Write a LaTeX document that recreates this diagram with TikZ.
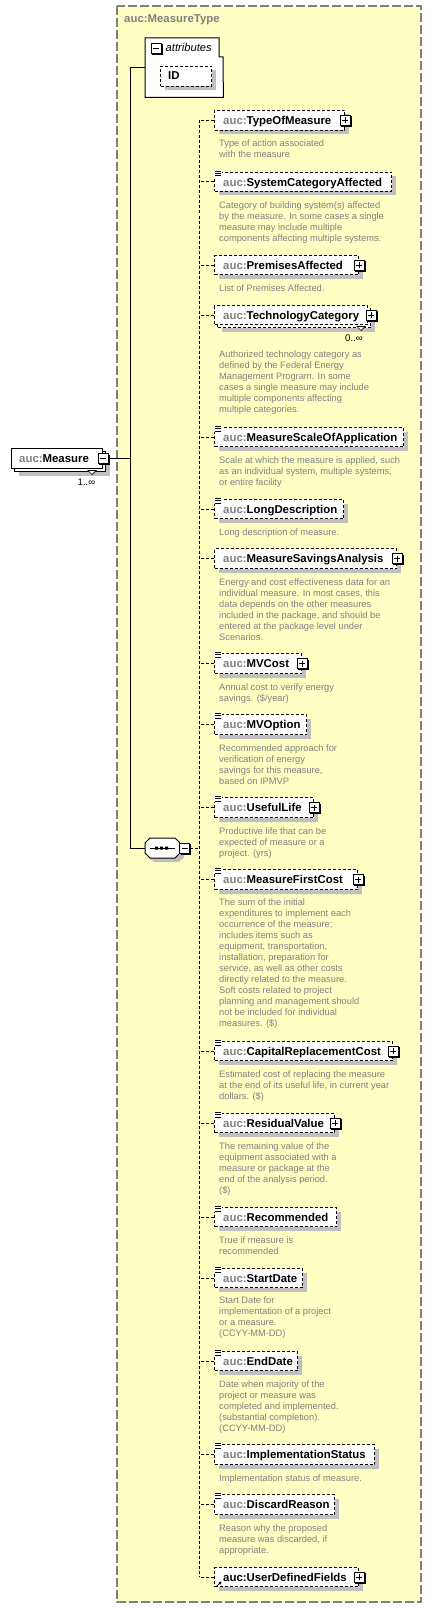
\documentclass[tikz,border=0pt]{standalone}
\usepackage{fontspec}
\setmainfont{Liberation Sans}
\usetikzlibrary{shadows,calc,arrows.meta}
\definecolor{bgyellow}{RGB}{255,255,196}
\definecolor{framegray}{RGB}{128,128,128}
\definecolor{shadowgray}{RGB}{192,192,192}
\definecolor{descgray}{RGB}{128,128,128}
\definecolor{prefixgray}{RGB}{128,128,128}
\newcommand\AucLabel[1]{\textcolor{prefixgray}{auc:}#1}
\newcommand\DescLines[1]{\begin{tabular}[t]{@{}l@{}}#1\end{tabular}}
\tikzset{
  conn/.style={line width=1pt, black},
  dconn/.style={line width=1pt, black, dash pattern=on 3pt off 2pt},
  boxshadow/.style={drop shadow={shadow xshift=4pt, shadow yshift=-4pt, fill=shadowgray, opacity=1}},
  optbox/.style={draw, line width=1pt, dash pattern=on 3pt off 2pt, fill=white, inner sep=0, anchor=north west},
  reqbox/.style={draw, line width=1pt, fill=white, inner sep=0, anchor=north west},
  lbl/.style={font=\fontsize{11.4}{13}\selectfont\bfseries, inner sep=0, anchor=base west},
  desc/.style={font=\fontsize{9.3}{11}\selectfont, text=descgray, inner sep=0, anchor=base west},
  card/.style={font=\fontsize{9.6}{11}\selectfont, inner sep=0, anchor=base},
  container/.style={fill=bgyellow, draw=framegray, line width=1.2pt, dash pattern=on 9pt off 3pt},
  plusmark/.pic={
    \fill[black] (-4,-4) rectangle (6.5,6.5);
    \draw[line width=1pt, fill=white] (-5,-5) rectangle (5,5);
    \draw[line width=1pt] (-3,0) -- (3,0) (0,-3) -- (0,3);
  },
  minusmark/.pic={
    \fill[black] (-4,-4) rectangle (6.5,6.5);
    \draw[line width=1pt, fill=white] (-5,-5) rectangle (5,5);
    \draw[line width=1pt] (-3,0) -- (3,0);
  },
  simpmark/.pic={
    \fill[white] (-1,-1.5) rectangle (7.5,5);
    \draw[line width=0.8pt] (1,-0.5) -- (7,-0.5) (1,1.7) -- (7,1.7) (1,3.9) -- (7,3.9);
  }
}
% name, right x, top y, bottom y, label
\newcommand\OptElem[5]{%
  \node[optbox, boxshadow, minimum width={#2-214}, minimum height={#4-#3}] (#1) at (214,#3) {};
  \node[lbl] (#1L) at ($(#1.west)+(9,4)$) {#5};
}
\begin{document}
\begin{tikzpicture}[x=1pt,y=-1pt]
\useasboundingbox (0,0) rectangle (431,1608);
\fill[white] (0,0) rectangle (431,1608);
\draw[container] (117,6) rectangle (421,1602);
\node[lbl, text=prefixgray] (title) at (124,23) {auc:MeasureType};

% attributes group
\node[inner sep=0, minimum width=78, minimum height=59, anchor=north west] (attr) at (145,38) {};
\draw[line width=1pt, fill=white] (attr.north west) -- ++(74,0) -- ++(0,19) -- ++(4,0) -- (attr.south east) -- (attr.south west) -- cycle;
\node[font=\fontsize{11.2}{13}\selectfont\itshape, inner sep=0, anchor=base west] (attrT) at (165.5,52) {attributes};
\node[optbox, boxshadow, minimum width=51, minimum height=20] (id) at (160,66) {};
\node[lbl] (idL) at (168,80) {ID};
\coordinate (attrW) at ($(attr.north west)+(0,30)$);

% Measure element (1..inf)
\node[reqbox, boxshadow, minimum width=91, minimum height=20] (measB) at (14,451) {};
\node[reqbox, minimum width=91, minimum height=20] (meas) at (11,448) {};
\node[lbl] (measL) at ($(meas.west)+(8,4)$) {\AucLabel{Measure}};
\draw[fill=white, line width=0.7pt] (88,470.5) -- (96,470.5) -- (92,474.5) -- cycle;
\node[card] (measC) at (86.5,485) {1..∞};

% sequence compositor
\node[inner sep=0, minimum width=35, minimum height=20] (seq) at (162.5,848) {};
\fill[shadowgray] (154,842) -- (179,842) -- (184,847) -- (184,857) -- (179,862) -- (154,862) -- (149,857) -- (149,847) -- cycle;
\draw[line width=1pt, fill=white] (150,838) -- (175,838) -- (180,843) -- (180,853) -- (175,858) -- (150,858) -- (145,853) -- (145,843) -- cycle;
\draw[line width=1pt] (150,848) -- (175,848);
\fill (155,846.5) rectangle (158,849.5) (160,846.5) rectangle (163,849.5) (165,846.5) rectangle (168,849.5);

% children
\OptElem{tom}{344}{110}{130}{\AucLabel{TypeOfMeasure}}
\node[desc] (tomD) at ($(tom.south west)+(5,16)$) {\DescLines{Type of action associated\\with the measure}};

\OptElem{sca}{391}{172}{191}{\AucLabel{SystemCategoryAffected}}
\node[desc] (scaD) at ($(sca.south west)+(5,16)$) {\DescLines{Category of building system(s) affected\\by the measure. In some cases a single\\measure may include multiple\\components affecting multiple systems.}};

\OptElem{pa}{358}{255}{274}{\AucLabel{PremisesAffected}}
\node[desc] (paD) at ($(pa.south west)+(5,16)$) {\DescLines{List of Premises Affected.}};

\node[optbox, boxshadow, minimum width=153, minimum height=19] (tcB) at (217,308) {};
\node[optbox, minimum width=153, minimum height=19] (tc) at (214,305) {};
\node[lbl] (tcL) at ($(tc.west)+(9,4)$) {\AucLabel{TechnologyCategory}};
\draw[fill=white, line width=0.7pt] (357,326.5) -- (365,326.5) -- (361,330.5) -- cycle;
\node[card] (tcC) at (354,341.5) {0..∞};
\node[desc] (tcD) at (219,357) {\DescLines{Authorized technology category as\\defined by the Federal Energy\\Management Program. In some\\cases a single measure may include\\multiple components affecting\\multiple categories.}};

\OptElem{msoa}{403}{427}{446}{\AucLabel{MeasureScaleOfApplication}}
\node[desc] (msoaD) at ($(msoa.south west)+(5,16)$) {\DescLines{Scale at which the measure is applied, such\\as an individual system, multiple systems,\\or entire facility}};

\OptElem{ld}{343}{499}{518}{\AucLabel{LongDescription}}
\node[desc] (ldD) at ($(ld.south west)+(5,16)$) {\DescLines{Long description of measure.}};

\OptElem{msa}{396}{548}{568}{\AucLabel{MeasureSavingsAnalysis}}
\node[desc] (msaD) at ($(msa.south west)+(5,16)$) {\DescLines{Energy and cost effectiveness data for an\\individual measure. In most cases, this\\data depends on the other measures\\included in the package, and should be\\entered at the package level under\\Scenarios.}};

\OptElem{mvc}{301}{653}{673}{\AucLabel{MVCost}}
\node[desc] (mvcD) at ($(mvc.south west)+(5,16)$) {\DescLines{Annual cost to verify energy\\savings. (\$/year)}};

\OptElem{mvo}{306}{714}{734}{\AucLabel{MVOption}}
\node[desc] (mvoD) at ($(mvo.south west)+(5,16)$) {\DescLines{Recommended approach for\\verification of energy\\savings for this measure,\\based on IPMVP}};

\OptElem{ul}{313}{797}{817}{\AucLabel{UsefulLife}}
\node[desc] (ulD) at ($(ul.south west)+(5,16)$) {\DescLines{Productive life that can be\\expected of measure or a\\project. (yrs)}};

\OptElem{mfc}{357}{869}{889}{\AucLabel{MeasureFirstCost}}
\node[desc] (mfcD) at ($(mfc.south west)+(5,15)$) {\DescLines{The sum of the initial\\expenditures to implement each\\occurrence of the measure;\\includes items such as\\equipment, transportation,\\installation, preparation for\\service, as well as other costs\\directly related to the measure.\\Soft costs related to project\\planning and management should\\not be included for individual\\measures. (\$)}};

\OptElem{crc}{392}{1041}{1060}{\AucLabel{CapitalReplacementCost}}
\node[desc] (crcD) at ($(crc.south west)+(5,16)$) {\DescLines{Estimated cost of replacing the measure\\at the end of its useful life, in current year\\dollars. (\$)}};

\OptElem{rv}{334}{1113}{1132}{\AucLabel{ResidualValue}}
\node[desc] (rvD) at ($(rv.south west)+(5,16)$) {\DescLines{The remaining value of the\\equipment associated with a\\measure or package at the\\end of the analysis period.\\(\$)}};

\OptElem{rec}{336}{1207}{1226}{\AucLabel{Recommended}}
\node[desc] (recD) at ($(rec.south west)+(5,16)$) {\DescLines{True if measure is\\recommended}};

\OptElem{sd}{302}{1268}{1287}{\AucLabel{StartDate}}
\node[desc] (sdD) at ($(sd.south west)+(5,15)$) {\DescLines{Start Date for\\implementation of a project\\or a measure.\\(CCYY-MM-DD)}};

\OptElem{ed}{297}{1351}{1370}{\AucLabel{EndDate}}
\node[desc] (edD) at ($(ed.south west)+(5,16)$) {\DescLines{Date when majority of the\\project or measure was\\completed and implemented.\\(substantial completion).\\(CCYY-MM-DD)}};

\OptElem{is}{374}{1444}{1464}{\AucLabel{ImplementationStatus}}
\node[desc] (isD) at ($(is.south west)+(5,16)$) {\DescLines{Implementation status of measure.}};

\OptElem{dr}{334}{1494}{1514}{\AucLabel{DiscardReason}}
\node[desc] (drD) at ($(dr.south west)+(5,16)$) {\DescLines{Reason why the proposed\\measure was discarded, if\\appropriate.}};

\OptElem{udf}{358}{1567}{1586}{auc:UserDefinedFields}

% connectors
\coordinate (spineX) at (130,0);
\coordinate (trunkX) at (199,0);
\draw[conn] (attrW) -| (spineX |- seq.west) -- (seq.west);
\draw[conn] (meas.east) -- (meas.east -| spineX);
\draw[dconn] (seq.east) -- (seq.east -| trunkX);
\draw[dconn] (tom.west -| trunkX) -- (udf.west -| trunkX);
\foreach \n in {tom,sca,pa,tc,msoa,ld,msa,mvc,mvo,ul,mfc,crc,rv,rec,sd,ed,is,dr,udf}
  \draw[dconn] (\n.west) -- (\n.west -| trunkX);

% expand / collapse marks
\pic at (156,48.5) {minusmark};
\pic at (meas.east) {minusmark};
\pic at ($(seq.east)+(4.5,0)$) {minusmark};
\foreach \n in {tom,pa,msa,mvc,ul,mfc,crc,rv,udf}
  \pic at (\n.east) {plusmark};
\pic at (tcB.east |- tc.east) {plusmark};
\foreach \n in {sca,msoa,ld,mvc,mvo,ul,mfc,crc,rv,rec,sd,ed,is,dr}
  \pic at (\n.north west) {simpmark};
% reference arrow icon
\draw[line width=1pt, -{Stealth[length=3pt,width=3pt]}] ($(udf.south west)+(2,0)$) -- ($(udf.south west)+(7.5,-5.5)$);
\end{tikzpicture}
\end{document}
